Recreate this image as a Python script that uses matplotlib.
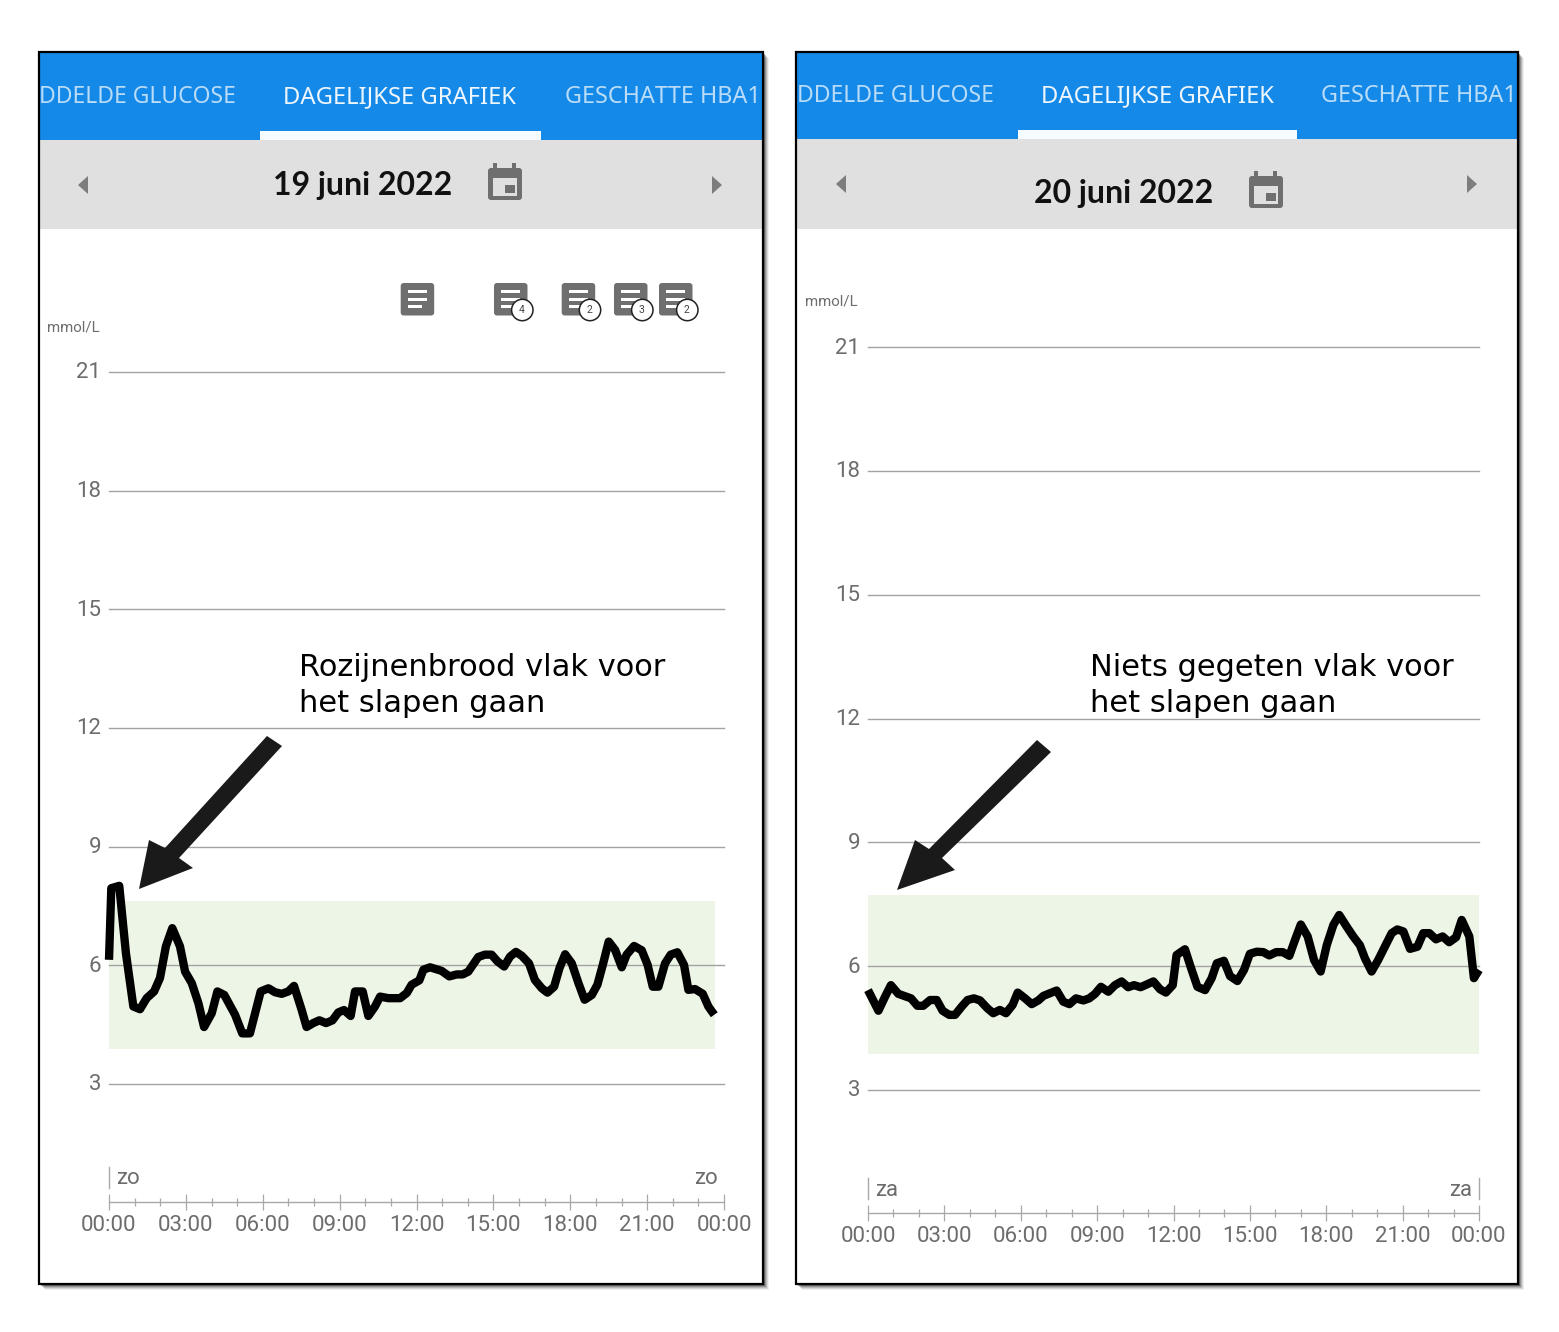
import matplotlib
matplotlib.use("Agg")
import matplotlib.pyplot as plt
from matplotlib.patches import Rectangle, FancyBboxPatch, Polygon, Circle
from matplotlib.transforms import ScaledTranslation

W, H = 1559, 1332

# ---------- data ----------
y_ticks = [3, 6, 9, 12, 15, 18, 21]
major_hours = [0, 3, 6, 9, 12, 15, 18, 21, 24]
minor_hours = [1, 2, 4, 5, 7, 8, 10, 11, 13, 14, 16, 17, 19, 20, 22, 23]
time_labels = ["00:00", "03:00", "06:00", "09:00", "12:00", "15:00", "18:00", "21:00", "00:00"]

hours_19 = [0.0, 0.09, 0.40, 0.66, 0.95, 1.21, 1.47, 1.76, 1.99, 2.22, 2.47, 2.77, 2.97, 3.23, 3.49, 3.71,
            4.01, 4.23, 4.50, 4.92, 5.20, 5.50, 5.92, 6.22, 6.48, 6.74, 7.00, 7.22, 7.52, 7.71, 7.97, 8.21,
            8.47, 8.72, 8.95, 9.17, 9.43, 9.60, 9.90, 10.12, 10.38, 10.58, 10.90, 11.36, 11.62, 11.81, 12.11,
            12.27, 12.53, 12.98, 13.28, 13.57, 13.80, 14.02, 14.41, 14.67, 14.93, 15.16, 15.42, 15.65, 15.88,
            16.11, 16.39, 16.62, 16.89, 17.11, 17.37, 17.58, 17.80, 18.06, 18.32, 18.56, 18.84, 19.06, 19.27,
            19.50, 19.75, 20.01, 20.20, 20.49, 20.79, 21.02, 21.22, 21.44, 21.70, 21.92, 22.18, 22.44, 22.61,
            22.87, 23.17, 23.39, 23.62]
glucose_19 = [6.14, 7.95, 8.01, 6.31, 4.96, 4.89, 5.17, 5.34, 5.68, 6.48, 6.94, 6.48, 5.84, 5.55, 5.04, 4.44,
              4.79, 5.34, 5.25, 4.75, 4.28, 4.28, 5.34, 5.42, 5.32, 5.28, 5.34, 5.48, 4.87, 4.44, 4.54, 4.61,
              4.54, 4.61, 4.81, 4.87, 4.72, 5.34, 5.34, 4.72, 4.96, 5.21, 5.17, 5.17, 5.30, 5.51, 5.62,
              5.89, 5.95, 5.86, 5.72, 5.77, 5.77, 5.84, 6.21, 6.27, 6.27, 6.10, 5.97, 6.22, 6.34,
              6.24, 6.05, 5.63, 5.42, 5.31, 5.46, 5.93, 6.28, 6.05, 5.55, 5.13, 5.25, 5.51, 6.01,
              6.60, 6.39, 5.95, 6.27, 6.49, 6.38, 6.01, 5.46, 5.46, 6.05, 6.27, 6.33, 6.01, 5.38,
              5.40, 5.28, 4.96, 4.75]

hours_20 = [0.0, 0.41, 0.67, 0.90, 1.19, 1.69, 1.94, 2.17, 2.44, 2.70, 2.93, 3.19, 3.42, 3.68, 3.91, 4.16, 4.40,
            4.69, 4.92, 5.18, 5.42, 5.68, 5.88, 6.17, 6.43, 6.69, 6.89, 7.41, 7.67, 7.91, 8.17, 8.46, 8.69,
            8.92, 9.15, 9.44, 9.70, 9.96, 10.22, 10.45, 10.71, 11.21, 11.47, 11.70, 11.97, 12.12, 12.45, 12.67,
            12.94, 13.24, 13.50, 13.70, 13.98, 14.22, 14.51, 14.77, 15.00, 15.27, 15.53, 15.76, 16.03, 16.29,
            16.55, 16.77, 17.00, 17.27, 17.52, 17.78, 18.02, 18.28, 18.51, 18.80, 19.06, 19.32, 19.52, 19.78,
            20.04, 20.30, 20.57, 20.79, 21.03, 21.29, 21.58, 21.81, 22.05, 22.31, 22.57, 22.83, 23.10, 23.32,
            23.62, 23.80, 24.0]
glucose_20 = [5.42, 4.92, 5.26, 5.54, 5.33, 5.22, 5.04, 5.04, 5.18, 5.18, 4.92, 4.82, 4.82, 5.02, 5.18, 5.22, 5.17,
              4.98, 4.86, 4.94, 4.86, 5.06, 5.36, 5.22, 5.08, 5.17, 5.28, 5.41, 5.14, 5.08, 5.22, 5.17, 5.22,
              5.33, 5.50, 5.38, 5.54, 5.63, 5.49, 5.54, 5.49, 5.63, 5.44, 5.36, 5.54, 6.27, 6.41, 5.99,
              5.50, 5.42, 5.71, 6.07, 6.13, 5.76, 5.64, 5.91, 6.30, 6.35, 6.34, 6.26, 6.34, 6.34,
              6.25, 6.63, 7.01, 6.72, 6.15, 5.87, 6.51, 7.00, 7.24, 6.96, 6.72, 6.51, 6.19, 5.87,
              6.15, 6.47, 6.80, 6.89, 6.84, 6.42, 6.47, 6.80, 6.80, 6.65, 6.72, 6.58, 6.70, 7.12,
              6.72, 5.71, 5.91]

tabs = ["DDELDE GLUCOSE", "DAGELIJKSE GRAFIEK", "GESCHATTE HBA1"]
dates = ["19 juni 2022", "20 juni 2022"]
unit = "mmol/L"
days = ["zo", "za"]
notes = [["Rozijnenbrood vlak voor", "het slapen gaan"], ["Niets gegeten vlak voor", "het slapen gaan"]]
badges = ["4", "2", "3", "2"]
band_19 = (3.89, 7.63, 23.65)
band_20 = (3.87, 7.72, 24.0)

# ---------- layout ----------
BLUE, GREY, ICON, TXT = "#1589e8", "#e0e0e0", "#6f6f6f", "#6d6d6d"
UI = ["Noto Sans", "DejaVu Sans"]
NUM = ["Roboto", "DejaVu Sans"]

fig = plt.figure(figsize=(W / 100, H / 100), dpi=100, facecolor="white")


def pixel_axes(z):
    a = fig.add_axes([0, 0, 1, 1], zorder=z)
    a.set_xlim(0, W)
    a.set_ylim(H, 0)
    a.axis("off")
    a.patch.set_alpha(0)
    return a


bg = pixel_axes(0)
top = pixel_axes(2)


def calendar(a, x, y):
    a.add_patch(FancyBboxPatch((x, y + 5), 34, 32, boxstyle="round,pad=0,rounding_size=3", fc=ICON, ec="none"))
    a.add_patch(Rectangle((x + 5, y + 15), 24, 18, fc=GREY, ec="none"))
    a.add_patch(Rectangle((x + 17, y + 22), 10, 8, fc=ICON, ec="none"))
    for dx in (7, 26):
        a.add_patch(Rectangle((x + dx - 1.5, y), 3.5, 7, fc=ICON, ec="none"))


def note_icon(a, x, badge=None):
    a.add_patch(FancyBboxPatch((x, 283), 33.5, 32.5, boxstyle="round,pad=0,rounding_size=3", fc=ICON, ec="none"))
    for yy, ln in ((291.7, 18.5), (299, 18.5), (306, 13.5)):
        a.add_patch(Rectangle((x + 7.5, yy - 1.5), ln, 3, fc="white", ec="none"))
    if badge is not None:
        a.add_patch(Circle((x + 28.3, 310), 10.7, fc="white", ec="#222222", lw=1.1))
        a.text(x + 27.8, 310, badge, fontsize=7.5, color="#444444", ha="center", va="center", family=NUM)


def panel(x0, x1, hdr, ul, tab_y, tab_x, date, date_x, date_y, cal, tri_l, tri_r, tri_y):
    y0, y1 = 52, 1284
    for off, al in ((6, 0.06), (5, 0.10), (4, 0.14), (3, 0.2), (2, 0.3)):
        bg.add_patch(Rectangle((x0 + off, y0 + off), x1 - x0, y1 - y0, fc="#000000", alpha=al, ec="none"))
    bg.add_patch(Rectangle((x0, y0), x1 - x0, y1 - y0, fc="white", ec="none"))
    bg.add_patch(Rectangle((x0, y0), x1 - x0, hdr - y0, fc=BLUE, ec="none"))
    bg.add_patch(Rectangle((x0, hdr), x1 - x0, 229 - hdr, fc=GREY, ec="none"))
    bg.add_patch(Rectangle((ul[0], hdr - 9), ul[1] - ul[0], 9, fc="#f6fbff", ec="none"))
    bg.add_patch(Rectangle((x0, y0), x1 - x0, y1 - y0, fc="none", ec="black", lw=1.6))
    cols = ["#b9dcf8", "#eef6fd", "#b9dcf8"]
    sizes = [16.5, 17.15, 16.85]
    for t, xx, c, s in zip(tabs, tab_x, cols, sizes):
        bg.text(xx, tab_y, t, family=UI, fontsize=s, color=c, ha="left", va="center")
    bg.text(date_x, date_y, date, family=["Lato", "DejaVu Sans"], fontsize=23, weight=700, color="#111111",
            ha="left", va="center")
    calendar(bg, *cal)
    bg.add_patch(Polygon([(tri_l + 10, tri_y - 9), (tri_l + 10, tri_y + 9), (tri_l, tri_y)], fc="#7d7d7d", ec="none"))
    bg.add_patch(Polygon([(tri_r, tri_y - 9), (tri_r, tri_y + 9), (tri_r + 10, tri_y)], fc="#7d7d7d", ec="none"))


panel(39, 763, 140, (260, 541), 97, (39, 283.5, 565), dates[0], 273, 185, (488, 163), 78, 712, 185)
panel(796, 1518, 139, (1018, 1297), 96, (797, 1041, 1321), dates[1], 1034, 193, (1249, 171), 836, 1467, 184)

for xx, b in zip((494, 561.7, 614, 659), badges):
    note_icon(bg, xx, b)
note_icon(bg, 400.7)


def chart(x0, x1, y21, y3, hours, values, band, day, label_y, base_y, unit_xy):
    ax = fig.add_axes([x0 / W, 1 - y3 / H, (x1 - x0) / W, (y3 - y21) / H], zorder=1)
    ax.patch.set_alpha(0)
    ax.set_xlim(0, 24)
    ax.set_ylim(3, 21)
    ax.fill_between([0, band[2]], band[0], band[1], color="#edf5e6", lw=0, zorder=0.2)
    ax.set_axisbelow(True)
    ax.set_yticks(y_ticks)
    ax.grid(axis="y", color="#a3a3a3", lw=1.0)
    for gl in ax.get_ygridlines():
        gl.set_clip_on(False)
    ax.plot(hours, values, color="black", lw=6.0, solid_joinstyle="round", solid_capstyle="butt",
            clip_on=False, zorder=3)
    for s in ("top", "left", "right"):
        ax.spines[s].set_visible(False)
    ax.spines["bottom"].set_position(("outward", (base_y - y3) * 0.72))
    ax.spines["bottom"].set_color("#a8a8a8")
    ax.spines["bottom"].set_linewidth(1.0)
    ax.set_xticks(major_hours)
    ax.set_xticks(minor_hours, minor=True)
    ax.set_xticklabels(time_labels)
    ax.tick_params(axis="x", which="major", direction="inout", length=11, width=0.9, color="#a8a8a8",
                   labelcolor=TXT, labelsize=16, pad=4.1)
    ax.tick_params(axis="x", which="minor", direction="inout", length=6, width=0.9, color="#a8a8a8")
    ax.tick_params(axis="y", length=0, labelcolor=TXT, labelsize=16, pad=5.5)
    up = ScaledTranslation(0, 1.5 / 100, fig.dpi_scale_trans)
    for lab in ax.get_xticklabels():
        lab.set_family(NUM)
    for lab in ax.get_yticklabels():
        lab.set_family(NUM)
        lab.set_transform(lab.get_transform() + up)
    top.plot([x0, x0], [label_y - 11, label_y + 10], color="#a8a8a8", lw=1.0)
    top.text(x0 + 7, label_y + 1, day, family=NUM, fontsize=16, color=TXT, ha="left", va="center")
    top.text(x1 - 6.5, label_y + 1, day, family=NUM, fontsize=16, color=TXT, ha="right", va="center")
    top.text(unit_xy[0], unit_xy[1] + 1, unit, family=NUM, fontsize=10.8, color=TXT, ha="left", va="center")
    return ax


chart(109, 724, 372, 1084, hours_19, glucose_19, band_19, days[0], 1178, 1202, (47, 326))
chart(868, 1479, 347, 1090, hours_20, glucose_20, band_20, days[1], 1189, 1213, (805, 300))
top.plot([1479, 1479], [1178, 1199], color="#a8a8a8", lw=1.0)

for xx, lines in zip((299, 1090), notes):
    for yy, ln in zip((667, 703), lines):
        top.text(xx, yy, ln, family="DejaVu Sans", fontsize=22, color="black", ha="left", va="center")

arrow_color = "#1a1a1a"
top.add_patch(Polygon([(267, 736), (282, 746), (179, 858), (193, 868), (139, 889), (149, 840), (165, 848)],
                      fc=arrow_color, ec="none"))
top.add_patch(Polygon([(1037, 740), (1051, 752), (942, 858), (955, 870), (897, 890), (915, 840), (929, 849)],
                      fc=arrow_color, ec="none"))

fig.savefig("out.png", dpi=100, facecolor="white")
